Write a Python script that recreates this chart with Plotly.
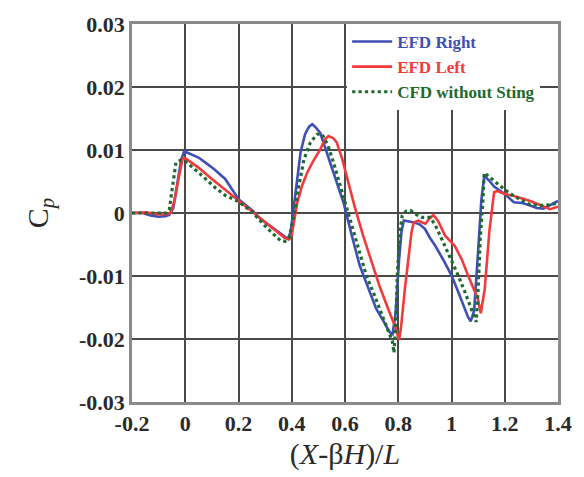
import plotly.graph_objects as go

# EFD Right (blue)
x_right = [-0.2, -0.16, -0.13, -0.1, -0.075, -0.06, -0.045, -0.03, -0.015, -0.004, 0.02, 0.05, 0.076, 0.11, 0.15,
           0.2, 0.25, 0.284, 0.33, 0.372, 0.385, 0.396, 0.405, 0.415, 0.425, 0.433, 0.45, 0.465, 0.477, 0.49,
           0.507, 0.532, 0.56, 0.594, 0.625, 0.655, 0.69, 0.717, 0.745, 0.766, 0.778, 0.79, 0.803, 0.812, 0.821,
           0.835, 0.86, 0.88, 0.9, 0.92, 0.939, 0.97, 1.0, 1.025, 1.05, 1.062, 1.072, 1.085, 1.1, 1.112, 1.123,
           1.14, 1.16, 1.173, 1.2, 1.234, 1.265, 1.296, 1.32, 1.345, 1.37, 1.4]
y_right = [0.0, 0.0, -0.0004, -0.0006, -0.0005, -0.0003, 0.0008, 0.0045, 0.0085, 0.0098, 0.0094, 0.0088, 0.0080,
           0.0069, 0.0054, 0.0022, 0.0005, -0.0010, -0.0024, -0.0036, -0.0041, -0.0030, 0.0002, 0.0033, 0.0072,
           0.0096, 0.0125, 0.0137, 0.0141, 0.0136, 0.0127, 0.0096, 0.0058, 0.0017, -0.0035, -0.0083, -0.0122,
           -0.0152, -0.0172, -0.0188, -0.0194, -0.0160, -0.0075, -0.0030, -0.0012, -0.0013, -0.0015, -0.0018,
           -0.0025, -0.0040, -0.0052, -0.0075, -0.0099, -0.0125, -0.0152, -0.0165, -0.0172, -0.0155, -0.0060,
           0.0020, 0.0059, 0.0052, 0.0042, 0.0038, 0.0030, 0.0017, 0.0016, 0.0012, 0.0008, 0.0007, 0.0012, 0.0019]

# EFD Left (red)
x_left = [-0.2, -0.15, -0.1, -0.07, -0.055, -0.04, -0.025, -0.01, 0.0, 0.05, 0.1, 0.15, 0.2, 0.25, 0.284, 0.33,
          0.372, 0.39, 0.4, 0.41, 0.421, 0.44, 0.458, 0.48, 0.507, 0.525, 0.538, 0.555, 0.569, 0.59, 0.606, 0.635,
          0.668, 0.7, 0.729, 0.76, 0.791, 0.803, 0.81, 0.825, 0.84, 0.85, 0.858, 0.875, 0.89, 0.902, 0.915, 0.932,
          0.95, 0.976, 1.012, 1.04, 1.062, 1.08, 1.099, 1.11, 1.125, 1.142, 1.16, 1.173, 1.2, 1.234, 1.265, 1.296,
          1.33, 1.37, 1.4]
y_left = [0.0, 0.0001, -0.0002, -0.0002, 0.0, 0.0020, 0.0055, 0.0086, 0.0087, 0.0072, 0.0054, 0.0037, 0.0019,
          0.0003, -0.0010, -0.0025, -0.0039, -0.0042, -0.0035, -0.0010, 0.0017, 0.0045, 0.0064, 0.0082, 0.0101,
          0.0117, 0.0122, 0.0119, 0.0112, 0.0085, 0.0059, 0.0012, -0.0036, -0.0078, -0.0115, -0.0150, -0.0183,
          -0.0202, -0.0183, -0.0120, -0.0067, -0.0030, -0.0015, -0.0012, -0.0015, -0.0017, -0.0010, -0.0003,
          -0.0013, -0.0036, -0.0052, -0.0075, -0.0099, -0.0118, -0.0136, -0.0159, -0.0120, -0.0030, 0.0033,
          0.0035, 0.0030, 0.0027, 0.0023, 0.0019, 0.0013, 0.0006, 0.0010]

# CFD without Sting (green)
x_cfd = [-0.2, -0.15, -0.1, -0.07, -0.06, -0.053, -0.035, -0.016, 0.0, 0.051, 0.113, 0.15, 0.2, 0.25, 0.31, 0.358,
         0.375, 0.39, 0.4, 0.41, 0.425, 0.446, 0.47, 0.495, 0.514, 0.535, 0.557, 0.588, 0.618, 0.65, 0.68, 0.71,
         0.741, 0.765, 0.778, 0.784, 0.79, 0.797, 0.806, 0.815, 0.83, 0.846, 0.87, 0.889, 0.92, 0.94, 0.963,
         0.995, 1.025, 1.05, 1.074, 1.093, 1.1, 1.108, 1.117, 1.123, 1.14, 1.173, 1.2, 1.234, 1.265, 1.296,
         1.345, 1.37, 1.4]
y_cfd = [0.0, 0.0, -0.0001, 0.0, 0.0005, 0.0027, 0.0080, 0.0084, 0.0082, 0.0064, 0.0040, 0.0028, 0.0018, 0.0002,
         -0.0025, -0.0044, -0.0045, -0.0040, -0.0020, 0.0, 0.0040, 0.0085, 0.0112, 0.0125, 0.0125, 0.0108, 0.0080,
         0.0035, -0.0010, -0.0055, -0.0099, -0.0130, -0.0162, -0.0190, -0.0204, -0.0222, -0.0180, -0.0094,
         -0.0030, -0.0004, 0.0003, 0.0004, -0.0003, -0.0007, -0.0007, -0.0020, -0.0041, -0.0070, -0.0099,
         -0.0125, -0.0152, -0.0173, -0.0120, -0.0040, 0.0012, 0.0064, 0.0058, 0.0046, 0.0037, 0.0027, 0.0020,
         0.0013, 0.0012, 0.0013, 0.0016]

x_ticks = [-0.2, 0, 0.2, 0.4, 0.6, 0.8, 1, 1.2, 1.4]
x_ticklabels = ["-0.2", "0", "0.2", "0.4", "0.6", "0.8", "1", "1.2", "1.4"]
y_ticks = [-0.03, -0.02, -0.01, 0, 0.01, 0.02, 0.03]
y_ticklabels = ["-0.03", "-0.02", "-0.01", "0", "0.01", "0.02", "0.03"]

BLUE = "#3f4fb8"
RED = "#f23a3a"
GREEN = "#1f6a2e"
FONT = "Liberation Serif"
TXT = "#2a2a2a"


def legend_label(text, color):
    return "<span style='color:%s'><b>%s</b></span>" % (color, text)


fig = go.Figure()
fig.add_trace(go.Scatter(x=x_right, y=y_right, mode="lines", name=legend_label("EFD Right", BLUE),
                         line=dict(color=BLUE, width=2.6)))
fig.add_trace(go.Scatter(x=x_left, y=y_left, mode="lines", name=legend_label("EFD Left", RED),
                         line=dict(color=RED, width=2.6)))
fig.add_trace(go.Scatter(x=x_cfd, y=y_cfd, mode="lines", name=legend_label("CFD without Sting", GREEN),
                         line=dict(color=GREEN, width=3.2, dash="dot")))

fig.update_layout(
    width=584, height=477,
    margin=dict(l=132, r=19, t=24, b=73),
    paper_bgcolor="white", plot_bgcolor="white",
    font=dict(family=FONT, color=TXT),
    showlegend=True,
    legend=dict(x=0.505, y=1.0, xanchor="left", yanchor="top",
                bgcolor="white", borderwidth=0,
                font=dict(family=FONT, size=17),
                tracegroupgap=0, itemwidth=40),
    xaxis=dict(range=[-0.2, 1.4], tickvals=x_ticks, ticktext=x_ticklabels,
               showgrid=True, gridcolor="#4a4a4a", gridwidth=1.5,
               showline=True, linecolor="#8a8a8a", linewidth=2.5, mirror=True,
               zeroline=False, ticks="", ticklen=0,
               tickfont=dict(family=FONT, size=22, color=TXT, weight="bold"),
               title=dict(text="(<i>X</i>-β<i>H</i>)/<i>L</i>", font=dict(family=FONT, size=30, color=TXT),
                          standoff=8)),
    yaxis=dict(range=[-0.03, 0.03], tickvals=y_ticks, ticktext=y_ticklabels,
               showgrid=True, gridcolor="#4a4a4a", gridwidth=1.5,
               showline=True, linecolor="#8a8a8a", linewidth=2.5, mirror=True,
               zeroline=False, ticks="", ticklen=0,
               tickfont=dict(family=FONT, size=22, color=TXT, weight="bold"),
               title=dict(text="C<sub><i>p</i></sub>", font=dict(family=FONT, size=30, color=TXT),
                          standoff=22)),
)

fig.write_html("out.html")
